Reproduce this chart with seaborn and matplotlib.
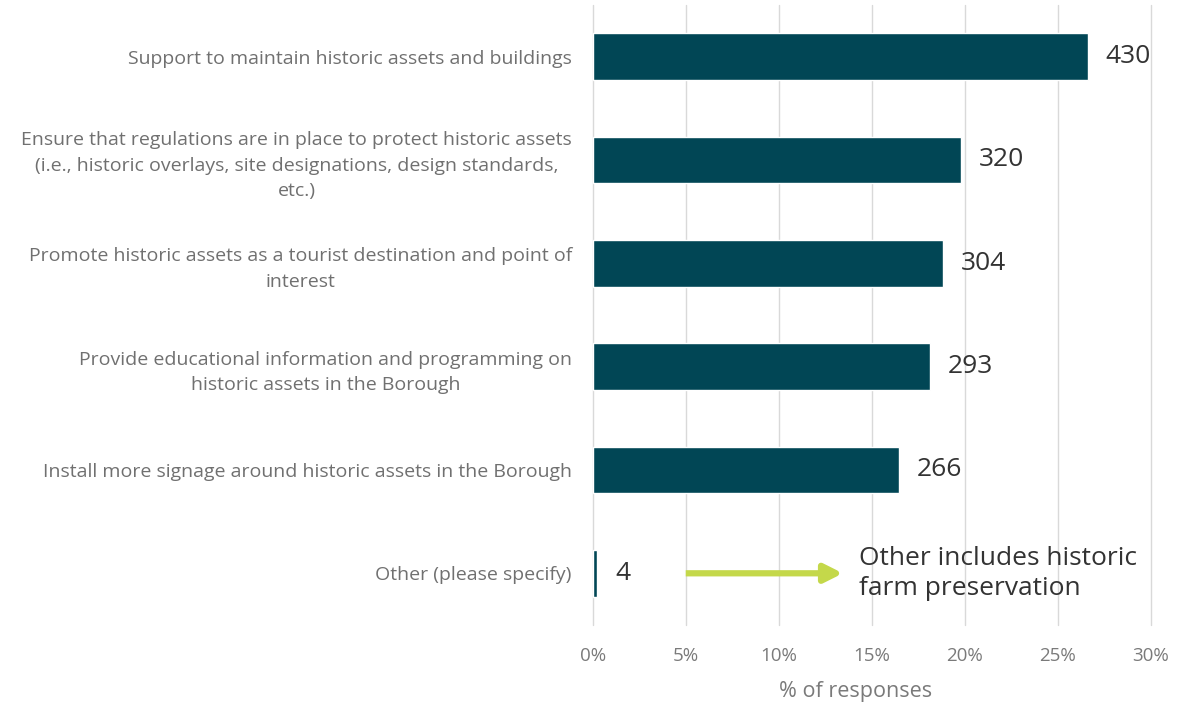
import pandas as pd
import matplotlib
matplotlib.use("Agg")
import matplotlib.pyplot as plt
import seaborn as sns

categories = [
    "Support to maintain historic assets and buildings",
    "Ensure that regulations are in place to protect historic assets\n(i.e., historic overlays, site designations, design standards,\netc.)",
    "Promote historic assets as a tourist destination and point of\ninterest",
    "Provide educational information and programming on\nhistoric assets in the Borough",
    "Install more signage around historic assets in the Borough",
    "Other (please specify)",
]
counts = [430, 320, 304, 293, 266, 4]
pct = [26.6, 19.8, 18.8, 18.1, 16.45, 0.25]
xticks = [0, 5, 10, 15, 20, 25, 30]
note = "Other includes historic\nfarm preservation"

sns.set_theme(style="white")
plt.rcParams["font.family"] = ["Open Sans", "DejaVu Sans"]

df = pd.DataFrame({"category": categories, "pct": pct, "count": counts})

fig = plt.figure(figsize=(11.83, 7.03), dpi=100)
ax = fig.add_axes([0.501, 0.111, 0.472, 0.882])

sns.barplot(data=df, y="category", x="pct", orient="h", color="#014655",
            width=0.45, saturation=1, ax=ax, zorder=3)

ax.set_xlim(0, 30)
ax.set_xticks(xticks)
ax.set_xticklabels([f"{t}%" for t in xticks])
ax.grid(axis="x", color="#d9d9d9", linewidth=1, zorder=0)
ax.set_axisbelow(True)
for gl in ax.get_xgridlines():
    gl.set_clip_on(False)
sns.despine(ax=ax, left=True, bottom=True)

ax.tick_params(axis="y", length=0, pad=15, labelsize=14, labelcolor="#707070")
ax.tick_params(axis="x", length=0, pad=16, labelsize=13.5, labelcolor="#7a7a7a")
for lab in ax.get_yticklabels():
    lab.set_multialignment("center")
    lab.set_linespacing(1.55)

ax.set_ylabel("")
ax.set_xlabel("% of responses", fontsize=15.5, color="#7a7a7a")
ax.xaxis.set_label_coords(0.471, -0.09)

for i, (p, c) in enumerate(zip(pct, counts)):
    ax.annotate(str(c), xy=(p, i), xytext=(13, 0), textcoords="offset points",
                va="center", ha="left", fontsize=19, color="#333333")

ax.annotate("", xy=(13.45, 5), xytext=(5, 5),
            arrowprops=dict(arrowstyle="-|>,head_length=0.9,head_width=0.45",
                            color="#c4d84a", lw=4.5, shrinkA=0, shrinkB=0,
                            capstyle="butt"))
ax.text(14.3, 5, note, va="center", ha="left", fontsize=19, color="#333333",
        linespacing=1.25)

plt.savefig("out.png", dpi=100)
